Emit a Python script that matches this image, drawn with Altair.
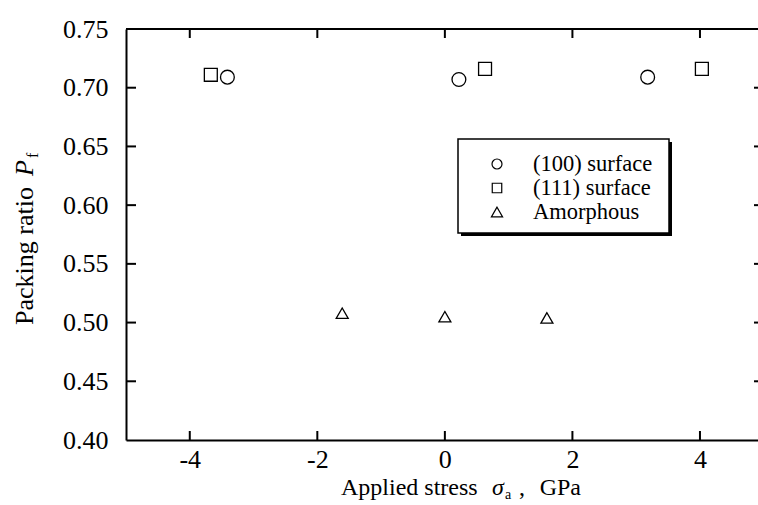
import altair as alt
import pandas as pd

# ---- data ----
series = ["(100) surface", "(111) surface", "Amorphous"]
shapes = ["circle", "square", "triangle-up"]
x100 = [-3.41, 0.22, 3.18]
y100 = [0.709, 0.707, 0.709]
x111 = [-3.67, 0.63, 4.03]
y111 = [0.711, 0.716, 0.716]
xam = [-1.61, 0.00, 1.60]
yam = [0.508, 0.505, 0.504]
xticks = [-4, -2, 0, 2, 4]
yticks = [0.40, 0.45, 0.50, 0.55, 0.60, 0.65, 0.70, 0.75]
yticks_inner = [0.45, 0.50, 0.55, 0.60, 0.65, 0.70]

W, H = 632, 411
FONT = "Liberation Serif"
BLACK = "#000000"

df = pd.DataFrame({
    "x": x100 + x111 + xam,
    "y": y100 + y111 + yam,
    "series": [series[0]] * 3 + [series[1]] * 3 + [series[2]] * 3,
})
dxt = pd.DataFrame({"x": xticks})
dyt = pd.DataFrame({"y": yticks_inner})
one = pd.DataFrame({"a": [0]})

xs = alt.Scale(domain=[-5, 4.91], nice=False, zero=False)
ys = alt.Scale(domain=[0.40, 0.75], nice=False, zero=False)
xaxis = alt.Axis(
    values=xticks, labelExpr="'' + datum.value", ticks=False, tickSize=0, grid=False,
    domainWidth=2, domainColor=BLACK, labelFont=FONT, labelFontSize=26,
    labelColor=BLACK, labelPadding=6, title=None)
yaxis = alt.Axis(
    values=yticks, format=".2f", ticks=False, tickSize=0, grid=False,
    domainWidth=2, domainColor=BLACK, labelFont=FONT, labelFontSize=26,
    labelColor=BLACK, labelPadding=18, title=None)
X = alt.X("x:Q", scale=xs, axis=xaxis)
Y = alt.Y("y:Q", scale=ys, axis=yaxis)

points = alt.Chart(df).mark_point(filled=False, color=BLACK, strokeWidth=1.3, opacity=1).encode(
    x=X, y=Y,
    shape=alt.Shape("series:N", scale=alt.Scale(domain=series, range=shapes), legend=None),
    size=alt.Size("series:N", scale=alt.Scale(domain=series, range=[190, 144, 240]), legend=None),
)

rule = dict(color=BLACK, strokeWidth=2)
top_frame = alt.Chart(one).mark_rule(**rule).encode(
    x=alt.value(0), x2=alt.value(W), y=alt.value(0))
top_ticks = alt.Chart(dxt).mark_rule(**rule).encode(x=X, y=alt.value(0), y2=alt.value(9))
bot_ticks = alt.Chart(dxt).mark_rule(**rule).encode(x=X, y=alt.value(H - 9), y2=alt.value(H))
left_ticks = alt.Chart(dyt).mark_rule(**rule).encode(y=Y, x=alt.value(0), x2=alt.value(10))
right_ticks = alt.Chart(dyt).mark_rule(**rule).encode(y=Y, x=alt.value(W - 4), x2=alt.value(W))

layers = [points, top_frame, top_ticks, bot_ticks, left_ticks, right_ticks]

# ---- axis titles composed of text pieces ----
def txt(s, x, y, size=24, style="normal", angle=0, align="left"):
    kw = dict(font=FONT, fontSize=size, fontStyle=style, align=align,
              baseline="alphabetic", color=BLACK)
    if angle:
        kw["angle"] = angle
    return alt.Chart(one).mark_text(**kw).encode(
        x=alt.value(x), y=alt.value(y), text=alt.value(s))

layers += [
    txt("Applied stress", 215, 466),
    txt("σ", 366, 466, style="italic"),
    txt("a", 379, 470, size=14),
    txt(",", 393, 466),
    txt("GPa", 455, 466, align="right"),
    txt("Packing ratio", -93, 296, size=26, angle=270),
    txt("P", -93, 147, size=26, style="italic", angle=270),
    txt("f", -88, 129, size=16, angle=270),
]

# ---- legend box with shadow ----
layers += [
    alt.Chart(one).mark_rect(color=BLACK).encode(
        x=alt.value(335), x2=alt.value(546), y=alt.value(113), y2=alt.value(207)),
    alt.Chart(one).mark_rect(fill="white", stroke=BLACK, strokeWidth=1.5).encode(
        x=alt.value(332), x2=alt.value(543), y=alt.value(110), y2=alt.value(204)),
]
leg_sizes = [100, 90, 125]
for i, name in enumerate(series):
    yy = 135 + 24 * i
    layers.append(alt.Chart(one).mark_point(
        shape=shapes[i], filled=False, color=BLACK, strokeWidth=1.2, size=leg_sizes[i], opacity=1
    ).encode(x=alt.value(371), y=alt.value(yy)))
    layers.append(alt.Chart(one).mark_text(
        font=FONT, fontSize=22.5, align="left", baseline="middle", color=BLACK
    ).encode(x=alt.value(407), y=alt.value(yy), text=alt.value(name)))

chart = alt.layer(*layers).properties(
    width=W, height=H,
    padding={"left": 126, "top": 29, "right": 0, "bottom": 65},
    autosize=alt.AutoSizeParams(type="none"),
    background="white",
).configure_view(stroke="transparent")

chart.save("out.html", embed_options={"renderer": "svg", "actions": False})
